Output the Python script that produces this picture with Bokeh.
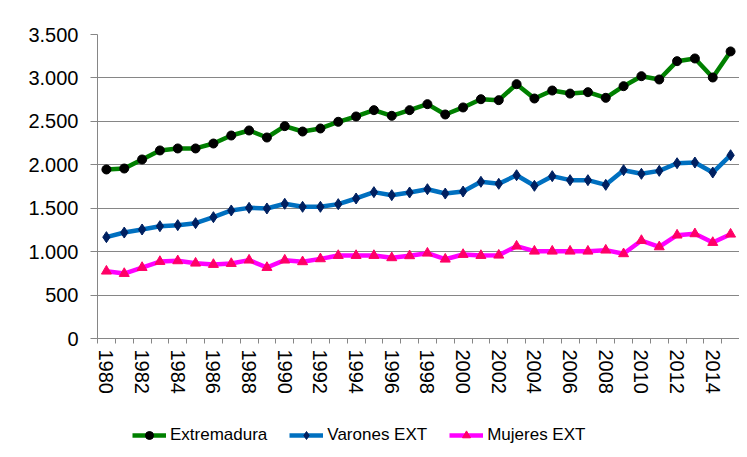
from bokeh.plotting import figure
from bokeh.layouts import column
from bokeh.models import (FixedTicker, Legend, LegendItem, Range1d)
from bokeh.embed import file_html
from bokeh.resources import INLINE

years = list(range(1980, 2016))
extremadura = [1946, 1957, 2061, 2165, 2188, 2188, 2245, 2337, 2395, 2314, 2445, 2383,
               2418, 2495, 2556, 2629, 2564, 2629, 2698, 2579, 2660, 2755, 2744, 2928,
               2763, 2855, 2820, 2836, 2771, 2905, 3020, 2982, 3193, 3224, 3005, 3305]
varones = [1167, 1220, 1255, 1293, 1305, 1328, 1397, 1474, 1504, 1497, 1551, 1516,
           1516, 1547, 1612, 1685, 1650, 1681, 1719, 1669, 1692, 1804, 1781, 1880,
           1758, 1869, 1823, 1823, 1769, 1938, 1896, 1930, 2018, 2026, 1911, 2110]
mujeres = [775, 748, 817, 886, 894, 867, 852, 863, 902, 817, 902, 883,
           917, 955, 955, 955, 929, 952, 982, 913, 967, 955, 959, 1063,
           1005, 1005, 1005, 1005, 1017, 975, 1128, 1055, 1190, 1205, 1105, 1201]
y_ticks = [0, 500, 1000, 1500, 2000, 2500, 3000, 3500]
y_labels = ["0", "500", "1.000", "1.500", "2.000", "2.500", "3.000", "3.500"]
x_label_years = [y for y in years if y % 2 == 0 and y <= 2014]
series_names = ["Extremadura", "Varones EXT", "Mujeres EXT"]
colors = ["#008000", "#0070C0", "#FF00FF"]
marker_colors = ["black", "#002060", "#FF0066"]
markers = ["circle", "diamond", "triangle"]
marker_sizes = [9, 11, 10]

FONT = "Liberation Sans"
GRID = "#868686"

p = figure(width=739, height=406, output_backend="svg", toolbar_location=None,
           x_range=Range1d(years[0] - 0.5, years[-1] + 0.5),
           y_range=Range1d(0, 3500),
           min_border_left=97, min_border_right=0, min_border_top=34,
           min_border_bottom=68)
p.outline_line_color = None
p.background_fill_color = "white"
p.border_fill_color = "white"

# grid
p.xgrid.grid_line_color = None
p.ygrid.grid_line_color = GRID
p.ygrid.grid_line_width = 1

# y axis
p.yaxis.ticker = FixedTicker(ticks=y_ticks)
p.yaxis.major_label_overrides = {t: l for t, l in zip(y_ticks, y_labels)}
p.yaxis.axis_line_color = GRID
p.yaxis.major_tick_line_color = GRID
p.yaxis.major_tick_out = 7
p.yaxis.major_tick_in = 0
p.yaxis.minor_tick_line_color = None
p.yaxis.major_label_standoff = 12
p.yaxis.major_label_text_font = FONT
p.yaxis.major_label_text_font_size = "20px"
p.yaxis.major_label_text_color = "black"

# x axis
boundaries = [y - 0.5 for y in years] + [years[-1] + 0.5]
p.xaxis.ticker = FixedTicker(ticks=x_label_years, minor_ticks=boundaries)
p.xaxis.major_label_overrides = {y: str(y) for y in x_label_years}
p.xaxis.axis_line_color = GRID
p.xaxis.major_tick_line_color = None
p.xaxis.major_tick_out = 5
p.xaxis.major_tick_in = 0
p.xaxis.minor_tick_line_color = GRID
p.xaxis.minor_tick_out = 5
p.xaxis.minor_tick_in = 0
p.xaxis.major_label_orientation = "vertical"
p.xaxis.major_label_standoff = 6
p.xaxis.major_label_text_font = FONT
p.xaxis.major_label_text_font_size = "20px"
p.xaxis.major_label_text_color = "black"

# series
series = [extremadura, varones, mujeres]
for vals, c, mk, mc, ms in zip(series, colors, markers, marker_colors, marker_sizes):
    p.line(years, vals, line_color=c, line_width=4.5)
    p.scatter(years, vals, marker=mk, size=ms, fill_color=mc, line_color=mc)

# legend in a strip below the chart (its renderers lie outside its view)
lg = figure(width=739, height=41, output_backend="svg", toolbar_location=None,
            x_range=Range1d(0, 1), y_range=Range1d(0, 1),
            x_axis_location=None, y_axis_location=None,
            min_border_left=0, min_border_right=0, min_border_top=0,
            min_border_bottom=0)
lg.grid.visible = False
lg.outline_line_color = None
lg.border_fill_color = "white"
lg.background_fill_color = "white"

items = []
for name, vals, c, mk, mc, ms in zip(series_names, series, colors, markers,
                                     marker_colors, marker_sizes):
    rl = lg.line(years, vals, line_color=c, line_width=4.5)
    rm = lg.scatter(years, vals, marker=mk, size=ms - 2, fill_color=mc, line_color=mc)
    items.append(LegendItem(label=name, renderers=[rl, rm]))

legend = Legend(items=items, orientation="horizontal", location=(35, 2),
                glyph_width=34, glyph_height=20, label_standoff=4, spacing=22,
                label_text_font=FONT, label_text_font_size="17px",
                label_text_color="black", border_line_color=None,
                background_fill_alpha=0, padding=4, margin=0)
lg.add_layout(legend, "center")

layout = column(p, lg, spacing=0)
open("out.html", "w").write(file_html(layout, INLINE))
